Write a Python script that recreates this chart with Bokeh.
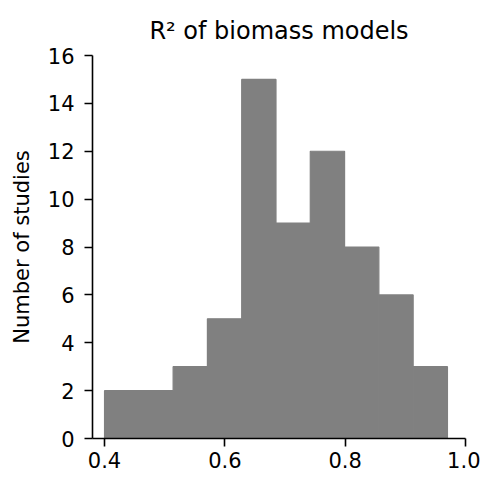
from bokeh.plotting import figure
from bokeh.models import FixedTicker, PrintfTickFormatter
from bokeh.embed import file_html
from bokeh.resources import INLINE

bin_edges = [0.400, 0.457, 0.514, 0.571, 0.628, 0.685, 0.742, 0.799, 0.856, 0.913, 0.970]
counts = [2, 2, 3, 5, 15, 9, 12, 8, 6, 3]
x_ticks = [0.4, 0.6, 0.8, 1.0]
y_ticks = [0, 2, 4, 6, 8, 10, 12, 14, 16]

FONT = "DejaVu Sans"

p = figure(width=480, height=477, x_range=(0.38, 1.0), y_range=(0, 16),
           output_backend="svg", toolbar_location=None,
           min_border_left=92, min_border_right=15, min_border_top=55, min_border_bottom=39)

p.quad(left=bin_edges[:-1], right=bin_edges[1:], bottom=0, top=counts,
       fill_color="#808080", line_color="#808080", line_width=1.2)

p.title.text = "R² of biomass models"
p.title.align = "center"
p.title.text_font = FONT
p.title.text_font_size = "24px"
p.title.text_font_style = "normal"
p.title.text_color = "#000000"
p.title.standoff = 22

p.outline_line_color = None
p.xgrid.grid_line_color = None
p.ygrid.grid_line_color = None
p.background_fill_color = "white"
p.border_fill_color = "white"

p.xaxis.ticker = FixedTicker(ticks=x_ticks)
p.xaxis.formatter = PrintfTickFormatter(format="%.1f")
p.yaxis.ticker = FixedTicker(ticks=y_ticks)
p.yaxis.axis_label = "Number of studies"

for ax in (p.xaxis[0], p.yaxis[0]):
    ax.axis_line_width = 1.6
    ax.axis_line_color = "#000000"
    ax.major_tick_line_width = 1.6
    ax.major_tick_line_color = "#000000"
    ax.major_tick_out = 8
    ax.major_tick_in = 0
    ax.minor_tick_line_color = None
    ax.major_label_text_font = FONT
    ax.major_label_text_font_size = "21px"
    ax.major_label_text_color = "#000000"
    ax.axis_label_text_font = FONT
    ax.axis_label_text_font_size = "21px"
    ax.axis_label_text_font_style = "normal"
    ax.axis_label_text_color = "#000000"

p.xaxis.major_label_standoff = 5
p.yaxis.major_label_standoff = 10
p.yaxis.axis_label_standoff = 11

open("out.html", "w").write(file_html(p, INLINE))
